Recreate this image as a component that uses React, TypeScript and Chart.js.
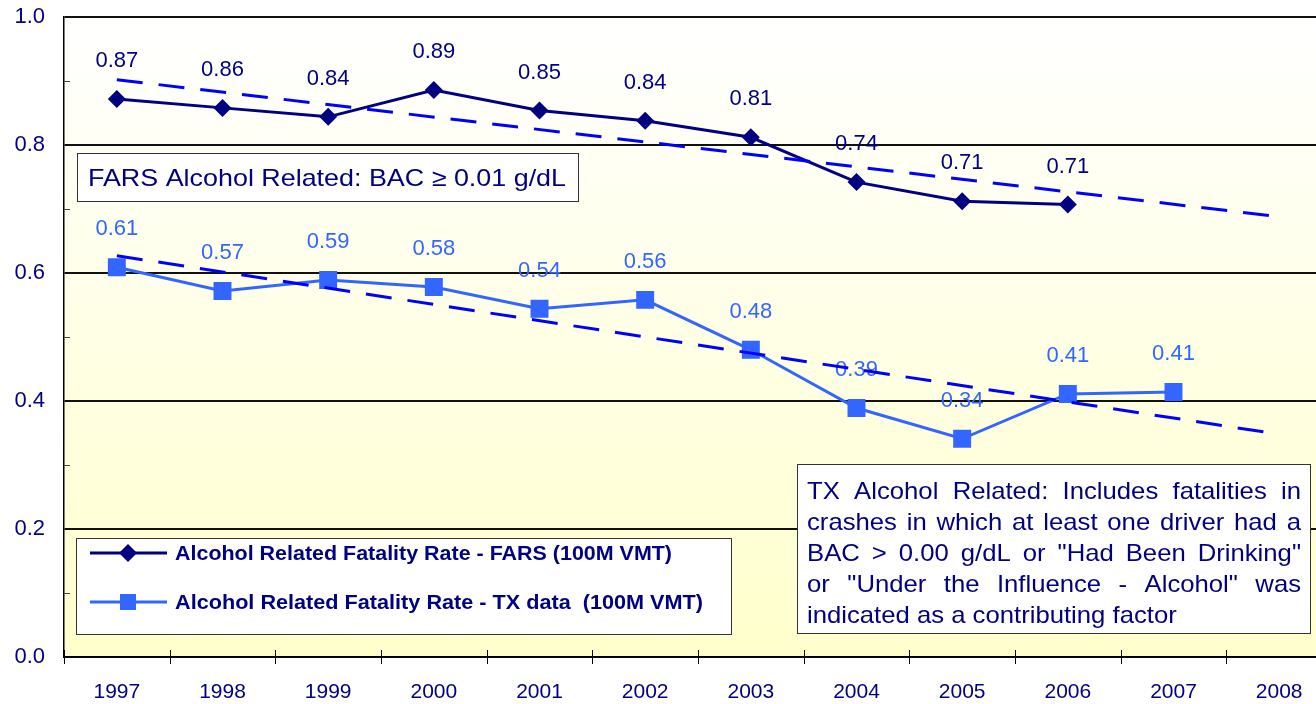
import React, { useEffect, useRef } from 'react';
import { Chart, registerables } from 'chart.js';

Chart.register(...registerables);

const years = ['1997', '1998', '1999', '2000', '2001', '2002', '2003', '2004', '2005', '2006', '2007', '2008'];
const farsRate = [0.872, 0.858, 0.844, 0.886, 0.854, 0.838, 0.812, 0.742, 0.712, 0.707, null, null];
const txRate = [0.609, 0.572, 0.589, 0.578, 0.544, 0.558, 0.48, 0.389, 0.341, 0.411, 0.414, null];
const farsTrend = [0.902, null, null, null, null, null, null, null, null, null, null, 0.688];
const txTrend = [0.627, null, null, null, null, null, null, null, null, null, null, 0.348];

const legendLabels = [
  'Alcohol Related Fatality Rate - FARS (100M VMT)',
  'Alcohol Related Fatality Rate - TX data  (100M VMT)',
];
const farsNote = 'FARS Alcohol Related: BAC \u2265 0.01 g/dL';
const txNoteLines = [
  'TX Alcohol Related: Includes fatalities in',
  'crashes in which at least one driver had a',
  'BAC > 0.00 g/dL or "Had Been Drinking"',
  'or "Under the Influence - Alcohol" was',
  'indicated as a contributing factor',
];

const NAVY = '#000080';
const TXBLUE = '#3366FF';
const TREND = '#0000FF';
const FONT = '"Liberation Sans", Arial, sans-serif';

function fitText(ctx: CanvasRenderingContext2D, text: string, x: number, y: number, width: number) {
  const w = ctx.measureText(text).width;
  ctx.save();
  ctx.translate(x, y);
  ctx.scale(width / w, 1);
  ctx.fillText(text, 0, 0);
  ctx.restore();
}

function justifyText(ctx: CanvasRenderingContext2D, text: string, x: number, y: number, width: number, hs: number, justify: boolean) {
  ctx.save();
  ctx.translate(x, y);
  ctx.scale(hs, 1);
  const avail = width / hs;
  const words = text.split(' ').filter((w) => w.length > 0);
  if (!justify || words.length < 2) {
    ctx.fillText(text, 0, 0);
  } else {
    const ws = words.map((w) => ctx.measureText(w).width);
    const total = ws.reduce((a, b) => a + b, 0);
    const gap = (avail - total) / (words.length - 1);
    let cx = 0;
    words.forEach((w, i) => {
      ctx.fillText(w, cx, 0);
      cx += ws[i] + gap;
    });
  }
  ctx.restore();
}

const bgPlugin = {
  id: 'bgPlugin',
  beforeDraw(chart: any) {
    const { ctx, chartArea } = chart;
    const g = ctx.createLinearGradient(0, chartArea.top, 0, chartArea.bottom);
    g.addColorStop(0, '#FFFFFF');
    g.addColorStop(1, '#FFFFCC');
    ctx.save();
    ctx.fillStyle = g;
    ctx.fillRect(chartArea.left, chartArea.top, chartArea.right - chartArea.left, chartArea.bottom - chartArea.top);
    ctx.restore();
  },
};

const axisPlugin = {
  id: 'axisPlugin',
  beforeDatasetsDraw(chart: any) {
    const { ctx, chartArea, scales } = chart;
    const y = scales.y;
    ctx.save();
    ctx.strokeStyle = '#444';
    ctx.lineWidth = 1;
    for (let v = 0.1; v < 1; v += 0.2) {
      const py = Math.round(y.getPixelForValue(v)) + 0.5;
      ctx.beginPath();
      ctx.moveTo(chartArea.left, py);
      ctx.lineTo(chartArea.left + 6, py);
      ctx.stroke();
    }
    ctx.strokeStyle = '#000';
    const n = years.length;
    const w = (chartArea.right - chartArea.left) / n;
    for (let i = 0; i <= n; i++) {
      const px = Math.round(chartArea.left + i * w) + 0.5;
      ctx.beginPath();
      ctx.moveTo(px, chartArea.bottom - 7);
      ctx.lineTo(px, chartArea.bottom + 7);
      ctx.stroke();
    }
    ctx.restore();
  },
};

const labelPlugin = {
  id: 'labelPlugin',
  beforeDatasetsDraw(chart: any) {
    const { ctx } = chart;
    ctx.save();
    ctx.font = `22px ${FONT}`;
    ctx.textAlign = 'center';
    ctx.textBaseline = 'middle';
    [2, 3].forEach((di) => {
      const ds = chart.data.datasets[di];
      const meta = chart.getDatasetMeta(di);
      ctx.fillStyle = ds.borderColor;
      meta.data.forEach((pt: any, i: number) => {
        const v = ds.data[i];
        if (v === null || v === undefined) return;
        ctx.fillText(v.toFixed(2), pt.x, pt.y - 38);
      });
    });
    ctx.restore();
  },
};

const boxPlugin = {
  id: 'boxPlugin',
  afterDraw(chart: any) {
    const { ctx } = chart;
    ctx.save();
    // FARS note
    ctx.fillStyle = '#FFFFFF';
    ctx.fillRect(77, 153, 501, 48);
    ctx.strokeStyle = '#333';
    ctx.lineWidth = 1;
    ctx.strokeRect(77.5, 153.5, 501, 48);
    ctx.fillStyle = NAVY;
    ctx.font = `24px ${FONT}`;
    ctx.textBaseline = 'alphabetic';
    ctx.textAlign = 'left';
    fitText(ctx, farsNote, 88, 186, 478);

    // TX note
    ctx.fillStyle = '#FFFFFF';
    ctx.fillRect(797, 464, 513, 169);
    ctx.strokeStyle = '#333';
    ctx.strokeRect(797.5, 464.5, 513, 169);
    ctx.fillStyle = NAVY;
    ctx.font = `24px ${FONT}`;
    txNoteLines.forEach((line, i) => {
      justifyText(ctx, line, 807, 498.5 + i * 31, 494, 1.07, i < txNoteLines.length - 1);
    });

    // Legend
    ctx.fillStyle = '#FFFFFF';
    ctx.fillRect(76, 538, 655, 96);
    ctx.strokeStyle = '#333';
    ctx.strokeRect(76.5, 538.5, 655, 96);
    const rows = [
      { y: 553, color: NAVY, shape: 'diamond', w: 497 },
      { y: 602, color: TXBLUE, shape: 'square', w: 528 },
    ];
    rows.forEach((r, i) => {
      ctx.strokeStyle = r.color;
      ctx.lineWidth = 3;
      ctx.beginPath();
      ctx.moveTo(90, r.y);
      ctx.lineTo(167, r.y);
      ctx.stroke();
      ctx.fillStyle = r.color;
      ctx.beginPath();
      if (r.shape === 'diamond') {
        ctx.moveTo(128, r.y - 9);
        ctx.lineTo(137, r.y);
        ctx.lineTo(128, r.y + 9);
        ctx.lineTo(119, r.y);
        ctx.closePath();
        ctx.fill();
      } else {
        ctx.fillRect(120, r.y - 8, 16, 16);
      }
      ctx.fillStyle = NAVY;
      ctx.font = `bold 20px ${FONT}`;
      ctx.textBaseline = 'middle';
      fitText(ctx, legendLabels[i], 175, r.y + 1, r.w);
    });
    ctx.restore();
  },
};

export default function App() {
  const ref = useRef<HTMLCanvasElement | null>(null);
  useEffect(() => {
    if (!ref.current) return;
    const chart = new Chart(ref.current, {
      type: 'line',
      data: {
        labels: years,
        datasets: [
          {
            label: 'FARS trend',
            data: farsTrend,
            borderColor: TREND,
            borderWidth: 3,
            borderDash: [26, 16],
            pointRadius: 0,
            spanGaps: true,
            fill: false,
          },
          {
            label: 'TX trend',
            data: txTrend,
            borderColor: TREND,
            borderWidth: 3,
            borderDash: [26, 16],
            pointRadius: 0,
            spanGaps: true,
            fill: false,
          },
          {
            label: legendLabels[0],
            data: farsRate,
            borderColor: NAVY,
            backgroundColor: NAVY,
            borderWidth: 3,
            pointStyle: 'rectRot',
            pointRadius: 9,
            pointBorderWidth: 0,
            fill: false,
          },
          {
            label: legendLabels[1],
            data: txRate,
            borderColor: TXBLUE,
            backgroundColor: TXBLUE,
            borderWidth: 3,
            pointStyle: 'rect',
            pointRadius: 12.7,
            pointBorderWidth: 0,
            fill: false,
          },
        ],
      },
      options: {
        responsive: false,
        animation: false,
        devicePixelRatio: 1,
        layout: { autoPadding: false, padding: { top: 17, left: 0, right: 0, bottom: 0 } },
        plugins: {
          legend: { display: false },
          tooltip: { enabled: false },
          title: { display: false },
        },
        scales: {
          x: {
            type: 'category',
            offset: true,
            grid: { display: false, offset: true },
            border: { display: true, color: '#000', width: 1.5 },
            ticks: {
              color: NAVY,
              font: { family: FONT, size: 21 },
              padding: 15,
              maxRotation: 0,
              autoSkip: false,
            },
            afterFit: (s: any) => {
              s.height = 47;
              s.paddingLeft = 0;
              s.paddingRight = 0;
              s.paddingTop = 0;
              s.paddingBottom = 0;
            },
          },
          y: {
            min: 0,
            max: 1,
            grid: { color: '#111', lineWidth: 2, drawTicks: false },
            border: { display: true, color: '#000', width: 1.5 },
            ticks: {
              stepSize: 0.2,
              color: NAVY,
              font: { family: FONT, size: 22 },
              padding: 19,
              callback: (v: any) => Number(v).toFixed(1),
            },
            afterFit: (s: any) => {
              s.width = 64;
              s.paddingLeft = 0;
              s.paddingRight = 0;
              s.paddingTop = 0;
              s.paddingBottom = 0;
            },
          },
        },
      },
      plugins: [bgPlugin, axisPlugin, labelPlugin, boxPlugin],
    });
    return () => chart.destroy();
  }, []);
  return (
    <div style={{ position: 'fixed', left: 0, top: 0, width: 1316, height: 704, background: '#fff', overflow: 'hidden' }}>
      <canvas ref={ref} width={1332} height={704} style={{ display: 'block' }} />
    </div>
  );
}
